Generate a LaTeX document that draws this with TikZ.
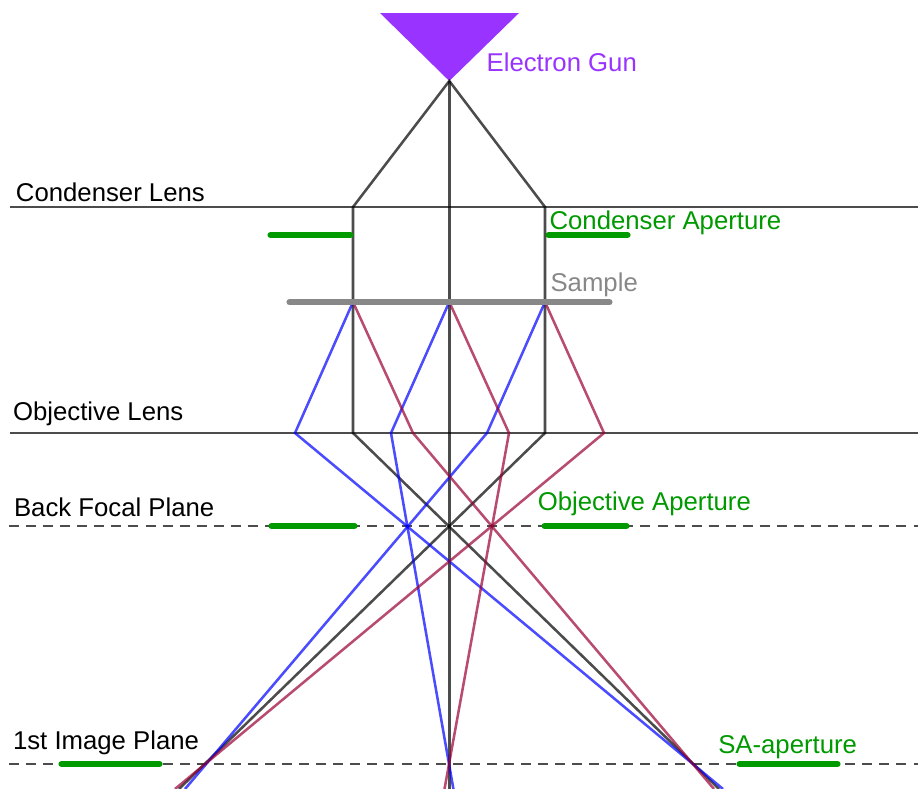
\documentclass[tikz,border=0pt]{standalone}
\usepackage{fontspec}
\setmainfont{Liberation Sans}
\usetikzlibrary{calc}
\definecolor{TEMGun}{HTML}{9933FF}
\definecolor{TEMGreen}{HTML}{009900}
\definecolor{TEMGray}{HTML}{888888}
\definecolor{TEMBlue}{HTML}{0000FF}
\definecolor{TEMRed}{HTML}{990033}
\begin{document}
\begin{tikzpicture}[
  x=0.75pt,y=-0.75pt,
  lbl/.style={anchor=base west,inner sep=0pt,font=\fontsize{19.3pt}{23pt}\selectfont},
  plane/.style={line width=2.2pt,black,opacity=0.7},
  focal/.style={plane,dash pattern=on 7.5pt off 5.3pt},
  ray/.style={line width=1.9pt,black,opacity=0.7,line join=miter},
  bluray/.style={ray,TEMBlue},
  redray/.style={ray,TEMRed},
  aperture/.style={line width=4.6pt,TEMGreen,line cap=round},
]
\useasboundingbox (0,0) rectangle (918,789);
% points of the beam path
\coordinate (gun) at (449.3,81);
\coordinate (condL) at (353,207);
\coordinate (condR) at (545,207);
\coordinate (sampL) at (353,302);
\coordinate (sampC) at (449.3,302);
\coordinate (sampR) at (545,302);
\coordinate (objA) at (295,433);
\coordinate (objB) at (353,433);
\coordinate (objC) at (391,433);
\coordinate (objD) at (413,433);
\coordinate (objE) at (487,433);
\coordinate (objF) at (509,433);
\coordinate (objG) at (545,433);
\coordinate (objH) at (604,433);
\coordinate (endBlueL) at (185,789);
\coordinate (endBlackL) at (179,789);
\coordinate (endRedL) at (175,789);
\coordinate (endBlueC) at (453.4,789);
\coordinate (endBlackC) at (449.3,789);
\coordinate (endRedC) at (444.5,789);
\coordinate (endBlueR) at (723,789);
\coordinate (endBlackR) at (719,789);
\coordinate (endRedR) at (714,789);
% planes
\draw[plane] (10,207) coordinate (condW) -- (918,207) coordinate (condE);
\draw[plane] (10,433) coordinate (objW) -- (918,433) coordinate (objE2);
\draw[focal] (9,526) coordinate (bfpW) -- (918,526) coordinate (bfpE);
\draw[focal] (9,764) coordinate (imgW) -- (918,764) coordinate (imgE);
% gun
\fill[TEMGun] (380,13) -- (519,13) -- (gun) -- cycle;
% rays
\draw[ray] (sampL) -- (condL) -- (gun) -- (condR) -- (sampR);
\draw[ray] (gun) -- (endBlackC);
\draw[ray] (sampL) -- (objB) -- (endBlackR);
\draw[ray] (sampR) -- (objG) -- (endBlackL);
\draw[bluray] (sampL) -- (objA) -- (endBlueR);
\draw[bluray] (sampC) -- (objC) -- (endBlueC);
\draw[bluray] (sampR) -- (objE) -- (endBlueL);
\draw[redray] (sampL) -- (objD) -- (endRedR);
\draw[redray] (sampC) -- (objF) -- (endRedC);
\draw[redray] (sampR) -- (objH) -- (endRedL);
% sample and apertures
\draw[line width=4.6pt,TEMGray,line cap=round] (289.5,302.4) coordinate (sampW) -- (609.5,302.4) coordinate (sampE);
\draw[aperture] (270.5,235) coordinate (caL1) -- (350.5,235) coordinate (caL2);
\draw[aperture] (548.5,235) coordinate (caR1) -- (627.5,235) coordinate (caR2);
\draw[aperture] (271.5,526) coordinate (oaL1) -- (354.5,526) coordinate (oaL2);
\draw[aperture] (544.5,526) coordinate (oaR1) -- (626.5,526) coordinate (oaR2);
\draw[aperture] (61.5,764) coordinate (saL1) -- (159.5,764) coordinate (saL2);
\draw[aperture] (739.5,764) coordinate (saR1) -- (837.5,764) coordinate (saR2);
% labels
\node[lbl,text=TEMGun] (gunlabel) at (486.4,71) {Electron Gun};
\node[lbl] (condlabel) at (15.7,201) {Condenser Lens};
\node[lbl,text=TEMGreen] (calabel) at (549.3,229) {Condenser Aperture};
\node[lbl,text=TEMGray] (samplabel) at (550.3,291) {Sample};
\node[lbl] (objlabel) at (12.8,420) {Objective Lens};
\node[lbl] (bfplabel) at (13.8,516) {Back Focal Plane};
\node[lbl,text=TEMGreen] (oalabel) at (537.5,510) {Objective Aperture};
\node[lbl] (imglabel) at (12.8,749) {1st Image Plane};
\node[lbl,text=TEMGreen] (salabel) at (718,753) {SA-aperture};
\end{tikzpicture}
\end{document}
